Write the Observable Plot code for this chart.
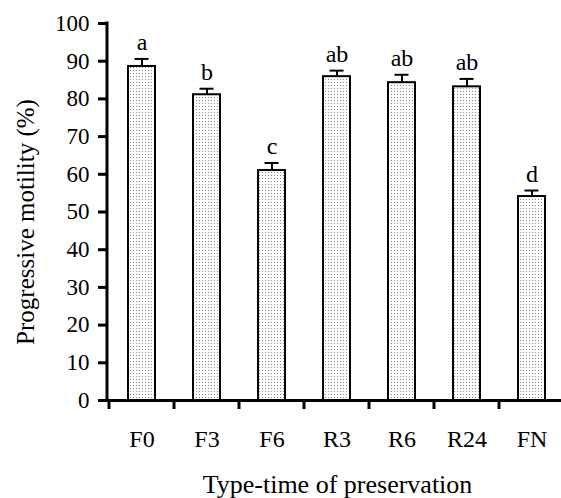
<!DOCTYPE html>
<html>
<head>
<meta charset="utf-8">
<script src="https://cdn.jsdelivr.net/npm/d3@7"></script>
<script src="https://cdn.jsdelivr.net/npm/@observablehq/plot@0.6"></script>
<style>
  html, body { margin: 0; padding: 0; background: #fff; overflow: hidden; }
  #chart svg { display: block; }
  g[aria-label="y-axis tick label"], g[aria-label="y-axis tick label"] text { font-size: 23px !important; }
  g[aria-label="x-axis tick label"], g[aria-label="x-axis tick label"] text { font-size: 24px !important; }
</style>
</head>
<body>
<div id="chart"></div>
<script>
const categories = ["F0", "F3", "F6", "R3", "R6", "R24", "FN"];
const means = [88.6, 81.1, 61.0, 85.9, 84.3, 83.2, 54.1];
const errors = [2.0, 1.6, 2.0, 1.6, 2.1, 2.1, 1.6];
const letters = ["a", "b", "c", "ab", "ab", "ab", "d"];
const yTicks = [0, 10, 20, 30, 40, 50, 60, 70, 80, 90, 100];
const xTitle = "Type-time of preservation";
const yTitle = "Progressive motility (%)";

const data = categories.map((c, i) => ({cat: c, mean: means[i], err: errors[i], letter: letters[i]}));

const FONT = "'Liberation Serif', 'Times New Roman', serif";

function defsMark() {
  const svg = d3.create("svg:defs");
  const p = svg.append("pattern")
    .attr("id", "dots").attr("patternUnits", "userSpaceOnUse")
    .attr("width", 3).attr("height", 3);
  p.append("rect").attr("width", 3).attr("height", 3).attr("fill", "#ffffff");
  p.append("rect").attr("x", 1).attr("y", 1).attr("width", 1).attr("height", 1).attr("fill", "#8a8a8a");
  return svg.node();
}

function axesLines(index, scales, values, dimensions) {
  const {x, y} = scales;
  const g = d3.create("svg:g").attr("stroke", "#000").attr("stroke-width", 3).attr("fill", "none");
  const left = dimensions.marginLeft;
  g.append("line").attr("x1", left).attr("x2", left).attr("y1", y(100) - 1.5).attr("y2", y(0) + 1.5);
  const bw = x.bandwidth();
  const step = x.step();
  for (const c of categories) {
    const bx = x(c) + bw / 2 - step / 2;
    g.append("line").attr("x1", bx).attr("x2", bx).attr("y1", y(0)).attr("y2", y(0) + 9);
  }
  return g.node();
}

const plot = Plot.plot({
  width: 561,
  height: 498,
  marginLeft: 107,
  marginRight: -6,
  marginTop: 23,
  marginBottom: 98,
  style: {fontFamily: FONT, fontSize: "24px", background: "#fff", color: "#000"},
  x: {domain: categories, paddingInner: 0.58, paddingOuter: 0.29, label: null, axis: null},
  y: {domain: [0, 100], label: null, axis: null},
  marks: [
    defsMark,
    Plot.barY(data, {x: "cat", y: "mean", fill: "url(#dots)", stroke: "#000", strokeWidth: 2}),
    Plot.ruleX(data, {x: "cat", y1: "mean", y2: d => d.mean + d.err, stroke: "#000", strokeWidth: 2}),
    Plot.tickY(data, {x: "cat", y: d => d.mean + d.err, stroke: "#000", strokeWidth: 2, insetLeft: 6.5, insetRight: 6.5}),
    Plot.text(data, {x: "cat", y: d => d.mean + d.err, text: "letter", lineAnchor: "bottom", dy: -9, fontSize: 24, fill: "#000"}),
    Plot.ruleY([0], {stroke: "#000", strokeWidth: 3}),
    axesLines,
    Plot.axisY({ticks: yTicks, tickSize: 9, tickPadding: 9, strokeWidth: 3, fontSize: 23, tickFormat: d => String(d), label: null}),
    Plot.axisX({tickSize: 0, tickPadding: 29, fontSize: 24, label: null}),
    Plot.text([xTitle], {frameAnchor: "bottom", dy: 84, lineAnchor: "middle", textAnchor: "middle", fontSize: 26, fill: "#000"}),
    Plot.text([yTitle], {frameAnchor: "left", rotate: -90, dx: -82, dy: 10, lineAnchor: "middle", textAnchor: "middle", fontSize: 25, fill: "#000"})
  ]
});

document.getElementById("chart").append(plot);
</script>
</body>
</html>
